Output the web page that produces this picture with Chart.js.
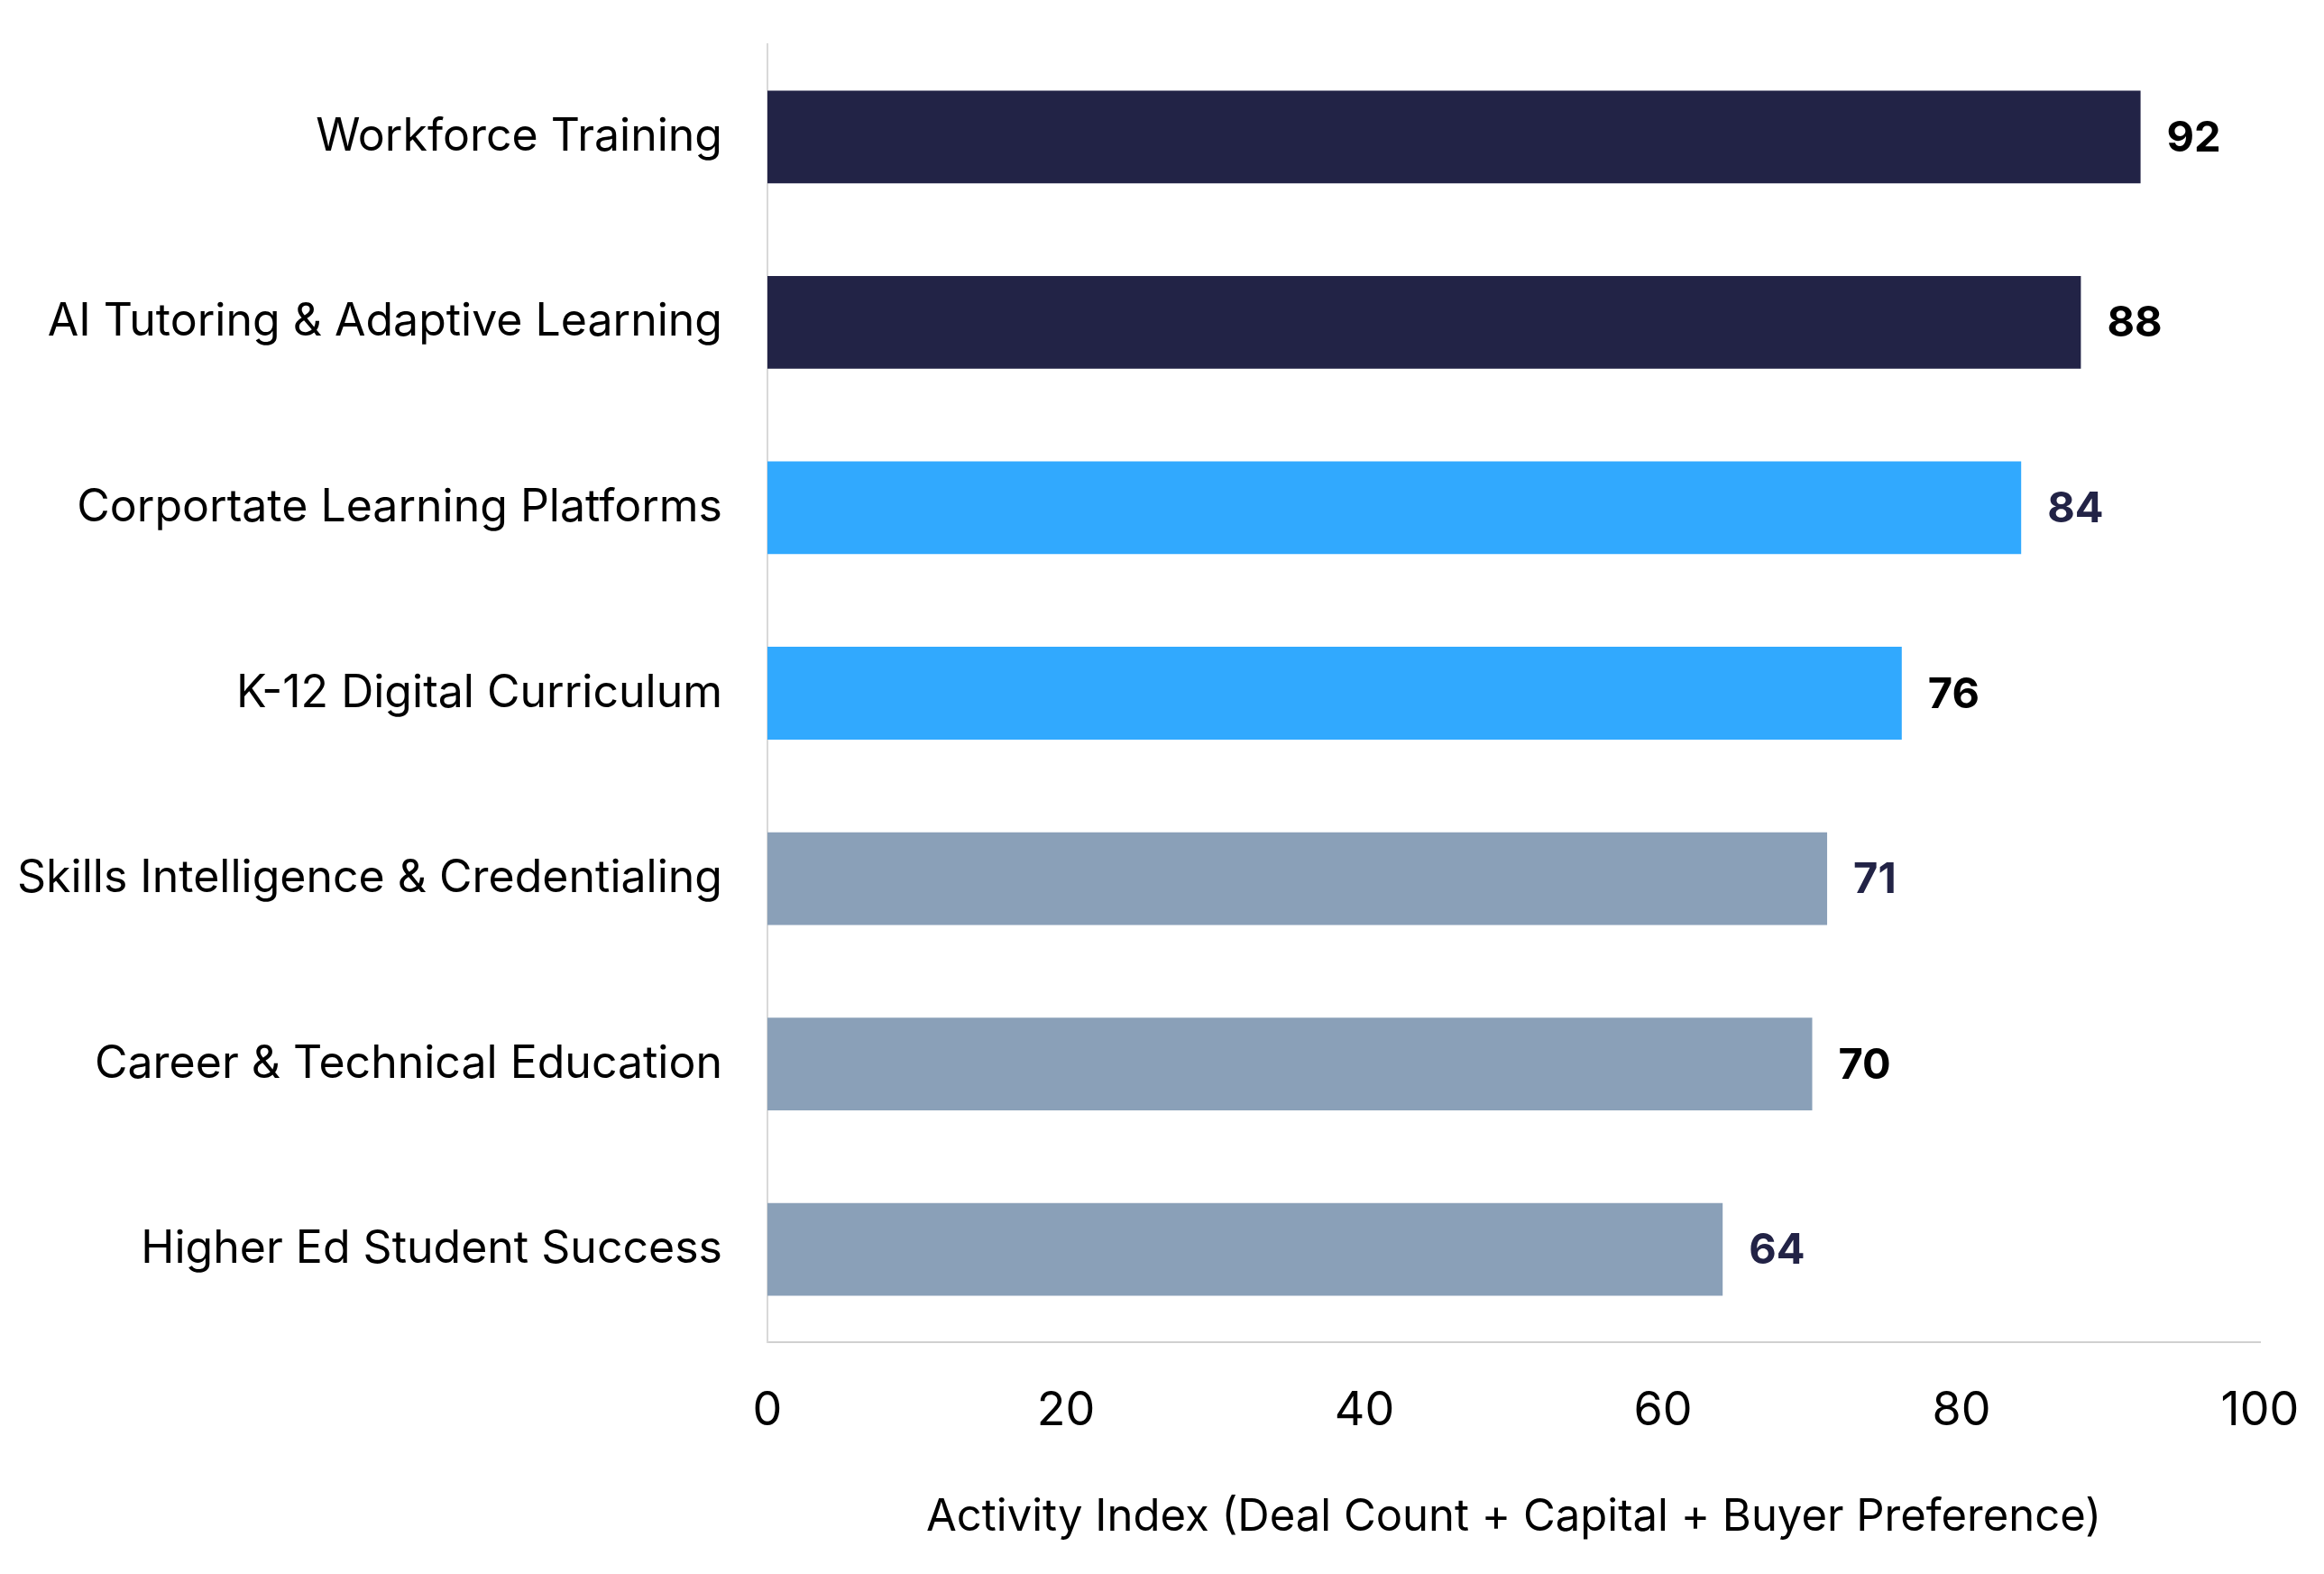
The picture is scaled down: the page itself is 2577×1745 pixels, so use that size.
<!DOCTYPE html>
<html>
<head>
<meta charset="utf-8">
<script src="https://cdn.jsdelivr.net/npm/chart.js@4.4.1/dist/chart.umd.min.js"></script>
<style>
  html, body { margin: 0; padding: 0; background: #ffffff; }
  #wrap { width: 2577px; height: 1745px; }
</style>
</head>
<body>
<div id="wrap"><canvas id="chart"></canvas></div>
<script>
/*=========================================================
DATA
=========================================================*/

const categories = [
  "Workforce Training",
  "AI Tutoring & Adaptive Learning",
  "Corportate Learning Platforms",
  "K-12 Digital Curriculum",
  "Skills Intelligence & Credentialing",
  "Career & Technical Education",
  "Higher Ed Student Success",
];

const activityIndex = [92, 88, 84, 76, 71, 70, 64];

const barColors = [
  "#222346", "#222346",
  "#31A9FE", "#31A9FE",
  "#8AA0B8", "#8AA0B8", "#8AA0B8",
];

const labelColors = [
  "#000000", "#000000", "#222346", "#000000", "#222346", "#000000", "#222346",
];

const xTicks = [0, 20, 40, 60, 80, 100];

const axisTitle = "Activity Index (Deal Count + Capital + Buyer Preference)";

const FONT = "Inter, 'Open Sans', sans-serif";

/*=========================================================
VALUE LABELS
=========================================================*/

const valueLabels = {
  id: "valueLabels",
  afterDatasetsDraw(chart) {
    const ctx = chart.ctx;
    const meta = chart.getDatasetMeta(0);
    ctx.save();
    ctx.font = "bold 47px " + FONT;
    ctx.textAlign = "left";
    ctx.textBaseline = "middle";
    meta.data.forEach((bar, i) => {
      ctx.fillStyle = labelColors[i];
      ctx.fillText(String(activityIndex[i]), bar.x + 29, bar.y + 2);
    });
    ctx.restore();
  },
};

/*=========================================================
CHART
=========================================================*/

new Chart(document.getElementById("chart"), {
  type: "bar",
  data: {
    labels: categories,
    datasets: [
      {
        data: activityIndex,
        backgroundColor: barColors,
        borderWidth: 0,
        barPercentage: 0.5,
        categoryPercentage: 1,
      },
    ],
  },
  options: {
    indexAxis: "y",
    responsive: true,
    maintainAspectRatio: false,
    animation: false,
    devicePixelRatio: 1,
    layout: {
      padding: { top: 49, right: 71, left: 0, bottom: 0 },
    },
    plugins: {
      legend: { display: false },
      tooltip: { enabled: false },
    },
    scales: {
      x: {
        min: 0,
        max: 100,
        afterBuildTicks: (scale) => {
          scale.ticks = xTicks.map((v) => ({ value: v }));
        },
        afterFit: (scale) => {
          scale.height = 257;
          scale.paddingLeft = 0;
          scale.paddingRight = 0;
        },
        grid: { display: false, drawTicks: false },
        border: { display: true, color: "#d0d0d0", width: 2 },
        ticks: {
          padding: 45,
          color: "#000000",
          font: { family: FONT, size: 52 },
        },
        title: {
          display: true,
          text: axisTitle,
          color: "#000000",
          font: { family: FONT, size: 49 },
          padding: { top: 0, bottom: 33 },
        },
      },
      y: {
        afterFit: (scale) => {
          scale.width = 851;
          scale.paddingTop = 0;
          scale.paddingBottom = 0;
        },
        grid: { display: false, drawTicks: false },
        border: { display: true, color: "#d9d9d9", width: 2 },
        ticks: {
          padding: 50,
          color: "#000000",
          font: { family: FONT, size: 50 },
        },
      },
    },
  },
  plugins: [valueLabels],
});
</script>
</body>
</html>
